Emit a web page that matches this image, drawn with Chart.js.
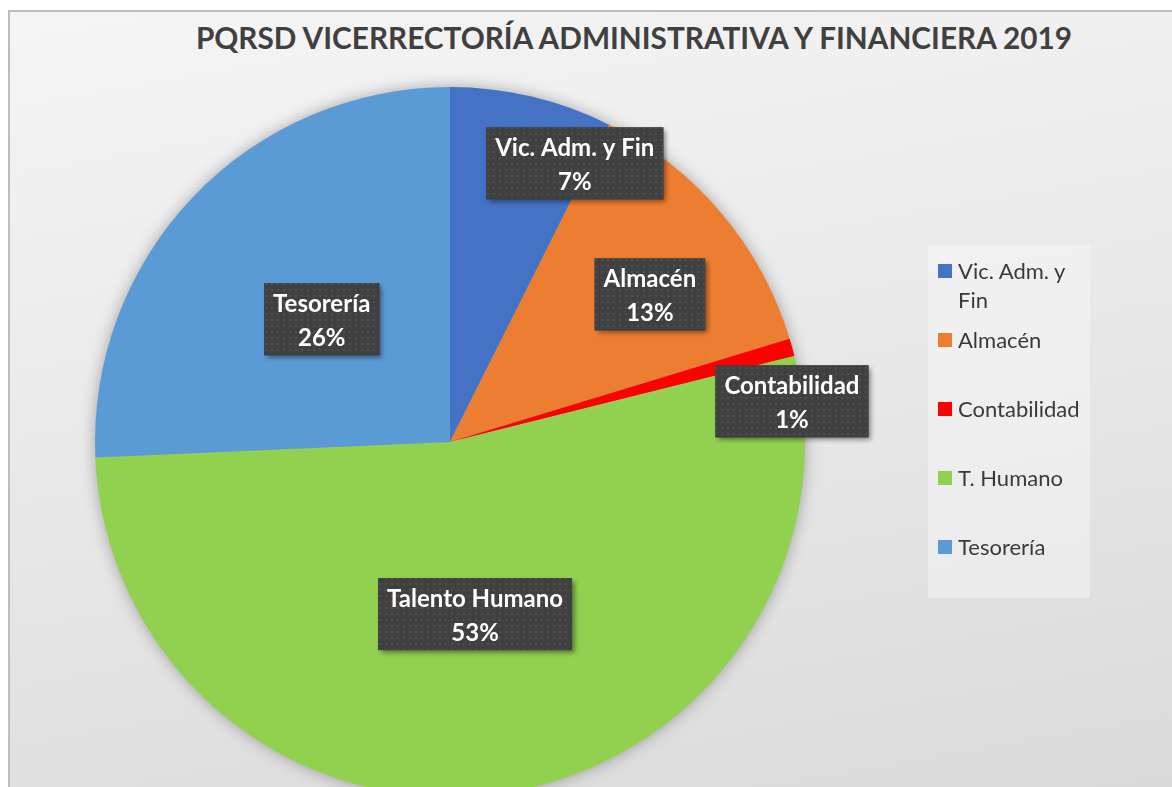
<!DOCTYPE html>
<html>
<head>
<meta charset="utf-8">
<script src="https://cdn.jsdelivr.net/npm/chart.js@4/dist/chart.umd.min.js"></script>
<style>
  html, body { margin: 0; padding: 0; width: 1172px; height: 787px; overflow: hidden; background: #fff; }
  #frame {
    position: absolute; left: 8px; top: 10px; width: 1200px; height: 820px;
    border-left: 2px solid #bdbdbd; border-top: 2px solid #bdbdbd;
    background: linear-gradient(170deg, #f5f5f5 0%, #e6e6e6 55%, #d8d8d8 100%);
  }
  #title {
    position: absolute; left: 0; width: 1268px; top: 20px; text-align: center;
    font-family: Lato, sans-serif; font-weight: bold; color: #404040; white-space: nowrap;
  }
  #wrap { position: absolute; left: 0; top: 0; width: 1172px; height: 860px; }
  #legend {
    position: absolute; left: 928px; top: 245px; width: 162px; height: 353px;
    background: rgba(255,255,255,0.35); box-sizing: border-box; padding: 11px 0 0 10px;
    font-family: Lato, sans-serif; font-size: 22px; color: #3a3a3a;
  }
  .item { display: flex; align-items: flex-start; height: 69px; line-height: 29px; }
  .item .box { width: 14px; height: 14px; margin-top: 8px; margin-right: 6px; flex: none; }
  .item .txt { width: 130px; }
</style>
</head>
<body>
<div id="frame"></div>
<div id="title">PQRSD VICERRECTORÍA ADMINISTRATIVA Y FINANCIERA 2019</div>
<div id="wrap"><canvas id="pqrsdChart"></canvas></div>
<div id="legend"></div>
<script>
// DATA
const categories = ['Vic. Adm. y Fin', 'Almacén', 'Contabilidad', 'T. Humano', 'Tesorería'];
const sliceNames = ['Vic. Adm. y Fin', 'Almacén', 'Contabilidad', 'Talento Humano', 'Tesorería'];
const shares = [7.4, 12.9, 0.8, 53.2, 25.7];

const sliceColors = ['#4472C4', '#ED7D31', '#FF0000', '#92D050', '#5B9BD5'];

// label placement (Excel "best fit" nudges): radius factor and extra turn in degrees
const labelRadius = [0.86, 0.70, 0.97, 0.49, 0.50];
const labelTurn = [10.8, 3.7, 8.7, 0, 0];

// TITLE - fit to width
const titleEl = document.getElementById('title');
const mc = document.createElement('canvas').getContext('2d');
mc.font = 'bold 28px Lato';
const tw = mc.measureText(titleEl.textContent).width;
const titleSize = 28 * 884 / tw;
titleEl.style.fontSize = titleSize + 'px';
titleEl.style.lineHeight = '36px';

// LEGEND
const legendEl = document.getElementById('legend');
categories.forEach((c, i) => {
    legendEl.innerHTML += `
        <div class="item">
            <div class="box" style="background:${sliceColors[i]}"></div>
            <div class="txt">${c}</div>
        </div>`;
});

// dotted pattern for the label boxes
function makePattern(ctx) {
    const p = document.createElement('canvas');
    p.width = 6; p.height = 6;
    const pc = p.getContext('2d');
    pc.fillStyle = '#404040';
    pc.fillRect(0, 0, 6, 6);
    pc.fillStyle = '#4f4f4f';
    pc.fillRect(1, 1, 2, 2);
    return ctx.createPattern(p, 'repeat');
}

const pieShadow = {
    id: 'pieShadow',
    beforeDatasetsDraw(chart) {
        const arc = chart.getDatasetMeta(0).data[0];
        if (!arc) return;
        const ctx = chart.ctx;
        ctx.save();
        ctx.shadowColor = 'rgba(0,0,0,0.35)';
        ctx.shadowBlur = 16;
        ctx.fillStyle = '#aaa';
        ctx.beginPath();
        ctx.arc(arc.x, arc.y, arc.outerRadius - 1, 0, Math.PI * 2);
        ctx.fill();
        ctx.restore();
    }
};

const sliceLabels = {
    id: 'sliceLabels',
    afterDatasetsDraw(chart) {
        const ctx = chart.ctx;
        const meta = chart.getDatasetMeta(0);
        const total = shares.reduce((a, b) => a + b, 0);
        const pattern = makePattern(ctx);
        ctx.save();
        ctx.font = 'bold 24px Lato';
        meta.data.forEach((arc, i) => {
            const p = arc.getProps(['x', 'y', 'startAngle', 'endAngle', 'outerRadius']);
            const a = (p.startAngle + p.endAngle) / 2 + labelTurn[i] * Math.PI / 180;
            const cx = p.x + Math.cos(a) * p.outerRadius * labelRadius[i];
            const cy = p.y + Math.sin(a) * p.outerRadius * labelRadius[i];
            const line1 = sliceNames[i];
            const line2 = Math.round(shares[i] / total * 100) + '%';
            const w = Math.max(ctx.measureText(line1).width, ctx.measureText(line2).width) + 18;
            const h = 72;
            const bx = cx - w / 2, by = cy - h / 2;

            ctx.save();
            ctx.shadowColor = 'rgba(0,0,0,0.45)';
            ctx.shadowBlur = 5;
            ctx.shadowOffsetX = 3;
            ctx.shadowOffsetY = 3;
            ctx.fillStyle = '#404040';
            ctx.fillRect(bx, by, w, h);
            ctx.restore();
            ctx.fillStyle = pattern;
            ctx.fillRect(bx, by, w, h);

            ctx.fillStyle = '#ffffff';
            ctx.textAlign = 'center';
            ctx.textBaseline = 'middle';
            ctx.fillText(line1, cx, by + 21);
            ctx.fillText(line2, cx, by + 55);
        });
        ctx.restore();
    }
};

const chart = new Chart(document.getElementById('pqrsdChart'), {
    type: 'pie',
    data: {
        labels: categories,
        datasets: [{
            data: shares,
            backgroundColor: sliceColors,
            borderWidth: 0
        }]
    },
    options: {
        responsive: true,
        maintainAspectRatio: false,
        animation: false,
        layout: {
            padding: { left: 95, top: 87, right: 367, bottom: 63 }
        },
        plugins: {
            legend: { display: false },
            tooltip: { enabled: false },
            title: { display: false }
        }
    },
    plugins: [pieShadow, sliceLabels]
});
</script>
</body>
</html>
